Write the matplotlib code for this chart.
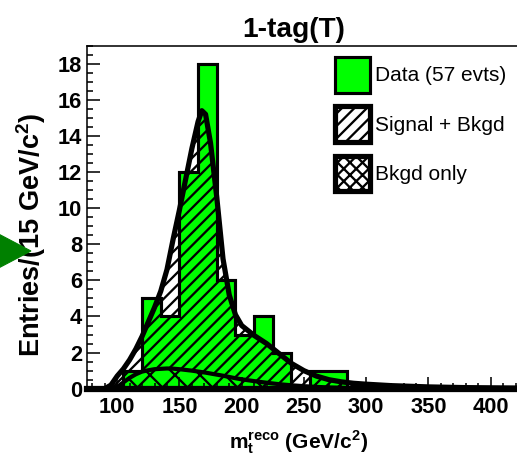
import matplotlib
matplotlib.use("Agg")
import matplotlib.pyplot as plt
from matplotlib.patches import Patch, Polygon
from matplotlib.ticker import MultipleLocator

# data histogram, 15 GeV/c^2 bins
bin_edges = [105, 120, 135, 150, 165, 180, 195, 210, 225, 240, 255, 270, 285]
data_counts = [1, 5, 4, 12, 18, 6, 3, 4, 2, 0, 1, 1]

# fitted templates
mass = [76, 90, 95, 100, 105, 110, 115, 120, 125, 130, 135, 140, 145, 150,
        155, 160, 165, 168, 171, 175, 180, 185, 190, 195, 200, 210, 220,
        230, 240, 250, 260, 270, 280, 290, 300, 320, 350, 380, 430]
sig_bkgd = [0, 0, 0.2, 0.7, 1.1, 1.6, 2.2, 2.9, 3.7, 4.5, 5.4, 6.6, 8.3, 9.9,
            11.6, 13.3, 14.8, 15.4, 15.2, 13.6, 10.6, 7.2, 5.2, 4.1, 3.5, 2.95, 2.5,
            1.95, 1.4, 1.0, 0.7, 0.5, 0.38, 0.3, 0.25, 0.17, 0.1, 0.06, 0.03]
bkgd = [0, 0, 0, 0.1, 0.35, 0.6, 0.8, 0.95, 1.02, 1.08, 1.1, 1.12, 1.11, 1.08,
        1.04, 1.0, 0.95, 0.92, 0.89, 0.84, 0.78, 0.72, 0.65, 0.58, 0.52, 0.42, 0.33,
        0.25, 0.19, 0.14, 0.1, 0.07, 0.05, 0.04, 0.03, 0.02, 0.02, 0.01, 0.01]

labels = ['Data (57 evts)', 'Signal + Bkgd', 'Bkgd only']
GREEN = '#00ff00'

DPI = 75
plt.rcParams['font.family'] = ['Liberation Sans', 'DejaVu Sans']
plt.rcParams['font.weight'] = 'bold'
plt.rcParams['hatch.linewidth'] = 2.2
plt.rcParams['hatch.color'] = 'black'

fig = plt.figure(figsize=(517 / DPI, 464 / DPI), dpi=DPI)
ax = fig.add_axes([87.3 / 517, 75.3 / 464, 440.7 / 517, 343 / 464])

ax.stairs(data_counts, bin_edges, fill=True, color=GREEN, zorder=1)
ax.stairs(data_counts, bin_edges, color='black', lw=3, zorder=2)
ax.fill_between(mass, bkgd, sig_bkgd, facecolor='none', edgecolor='black',
                hatch='//', lw=0, zorder=3)
ax.fill_between(mass, 0, bkgd, facecolor='none', edgecolor='black',
                hatch='x', lw=0, zorder=3)
ax.plot(mass, sig_bkgd, color='black', lw=5, zorder=4, solid_joinstyle='round', clip_on=False)
ax.plot(mass, bkgd, color='black', lw=4, zorder=4, solid_joinstyle='round', clip_on=False)

ax.set_xlim(76, 430)
ax.set_ylim(0, 19)
ax.xaxis.set_major_locator(MultipleLocator(50))
ax.xaxis.set_minor_locator(MultipleLocator(10))
ax.yaxis.set_major_locator(MultipleLocator(2))
ax.yaxis.set_minor_locator(MultipleLocator(0.5))
ax.tick_params(which='both', direction='in', width=1.5, labelsize=21)
ax.tick_params(which='major', length=12)
ax.tick_params(which='minor', length=6)
ax.tick_params(axis='x', pad=8)
ax.tick_params(axis='y', pad=5)
for s in ['left', 'top']:
    ax.spines[s].set_linewidth(1.5)
ax.spines['bottom'].set_linewidth(6)
ax.spines['bottom'].set_zorder(5)
ax.spines['right'].set_visible(False)

ax.set_ylabel('Entries/(15 GeV/c$^{\\mathregular{2}}$)', fontsize=26, weight='bold')
ax.yaxis.set_label_coords(-0.09, 0.448)
ax.set_xlabel(r'$\mathregular{m_{t}^{reco}}$ (GeV/c$^{\mathregular{2}}$)',
              fontsize=20, weight='bold')
ax.xaxis.set_label_coords(0.48, -0.158)
ax.xaxis.label.set_verticalalignment('center')

fig.text(294 / 517, 1 - 37 / 464, '1-tag(T)', ha='center', va='baseline',
         fontsize=27, weight='bold')

handles = [Patch(facecolor=GREEN, edgecolor='black', lw=3),
           Patch(facecolor='white', edgecolor='black', hatch='//', lw=5),
           Patch(facecolor='white', edgecolor='black', hatch='xx', lw=5)]
fig.legend(handles, labels, loc='upper left', bbox_to_anchor=(335 / 517, 1 - 57 / 464),
           frameon=False, borderpad=0, borderaxespad=0, handlelength=1.68,
           handleheight=2.26, labelspacing=0.65, handletextpad=0.24,
           prop={'size': 20, 'weight': 'normal'})

# green pointer on the left
fig.add_artist(Polygon([(-0.01, 1 - 232 / 464), (-0.01, 1 - 270 / 464), (31 / 517, 1 - 251 / 464)],
                       closed=True, color='#008000', transform=fig.transFigure))

fig.savefig('out.png', dpi=DPI)
